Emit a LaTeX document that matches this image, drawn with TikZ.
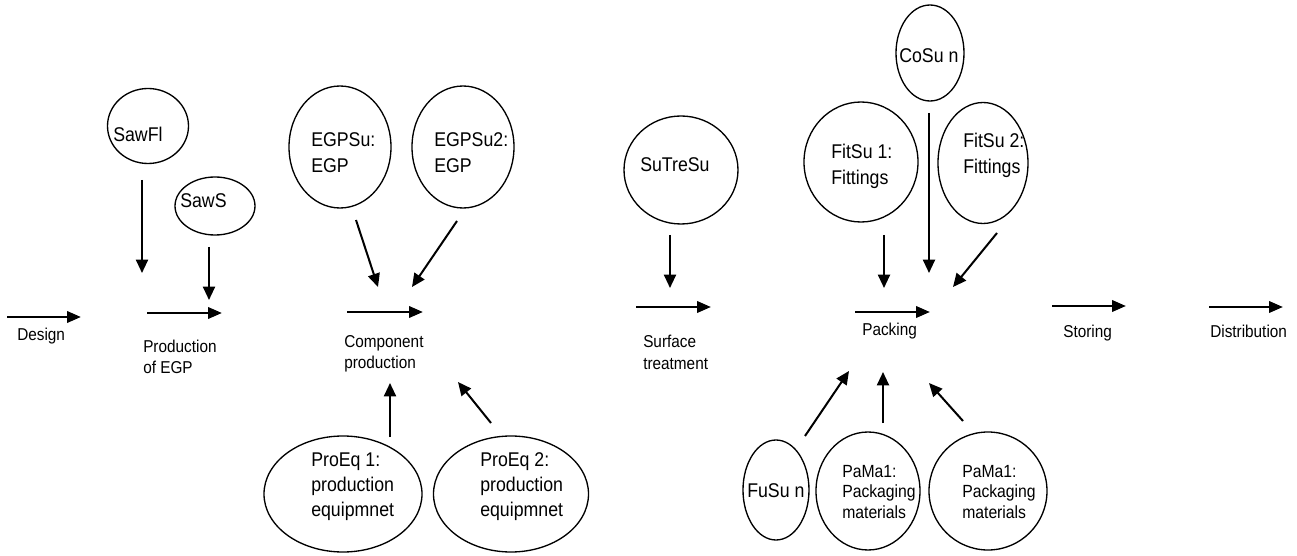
\documentclass[tikz,border=0pt]{standalone}
\usepackage{graphicx}
\usepackage{fontspec}
\setmainfont{Liberation Sans}
\usetikzlibrary{shapes.geometric,arrows.meta}
\newcommand{\stx}[1]{\scalebox{1}[1.12]{\begin{tabular}[t]{@{}l@{}}#1\end{tabular}}}
\tikzset{
  ell/.style n args={2}{shape=ellipse, draw, line width=1pt, inner sep=0pt,
    minimum width=#1*0.75pt, minimum height=#2*0.75pt},
  etxt/.style={anchor=base west, inner sep=0pt,
    font=\fontsize{13.3}{17}\selectfont},
  ptxt/.style={anchor=base west, inner sep=0pt,
    font=\fontsize{11.8}{14}\selectfont},
  ltxt/.style={anchor=base west, inner sep=0pt,
    font=\fontsize{11.5}{14.7}\selectfont},
  flow/.style={line width=2pt, -{Triangle[length=10.5pt,width=8.5pt]}},
  feed/.style={line width=1.5pt, -{Triangle[length=10pt,width=9pt]}}
}
\begin{document}
\begin{tikzpicture}[x=0.75pt,y=-0.75pt]
\useasboundingbox (0,0) rectangle (1297,556);

% ellipses
\node[ell={81}{75}]   (sawfl)  at (148,126) {};
\node[ell={80}{58}]   (saws)   at (215,206) {};
\node[ell={102}{122}] (egpsu)  at (340,147) {};
\node[ell={102}{122}] (egpsu2) at (463,147) {};
\node[ell={158}{116}] (proeq1) at (343,494) {};
\node[ell={155}{116}] (proeq2) at (511,494) {};
\node[ell={114}{108}] (sutresu) at (681,170) {};
\node[ell={68}{96}]   (cosu)   at (930,53) {};
\node[ell={114}{120}] (fitsu1) at (861,162) {};
\node[ell={90}{121}]  (fitsu2) at (983,163) {};
\node[ell={66}{100}]  (fusu)   at (776,490) {};
\node[ell={104}{118}] (pama1)  at (868,491) {};
\node[ell={118}{118}] (pama2)  at (988,491) {};

% ellipse texts
\node[etxt] (tsawfl)  at (113,142) {\stx{SawFl}};
\node[etxt] (tsaws)   at (180,208) {\stx{SawS}};
\node[etxt] (tegpsu)  at (311,147) {\stx{EGPSu:\\EGP}};
\node[etxt] (tegpsu2) at (434,147) {\stx{EGPSu2:\\EGP}};
\node[etxt] (tproeq1) at (311,466) {\stx{ProEq 1:\\production\\equipmnet}};
\node[etxt] (tproeq2) at (480,466) {\stx{ProEq 2:\\production\\equipmnet}};
\node[etxt] (tsutresu) at (640,172) {\stx{SuTreSu}};
\node[etxt] (tcosu)   at (899,63) {\stx{CoSu n}};
\node[etxt] (tfitsu1) at (831,159) {\stx{FitSu 1:\\Fittings}};
\node[etxt] (tfitsu2) at (963,148) {\stx{FitSu 2:\\Fittings}};
\node[etxt] (tfusu)   at (747,497) {\stx{FuSu n}};
\node[ptxt] (tpama1)  at (842,477) {\stx{PaMa1:\\Packaging\\materials}};
\node[ptxt] (tpama2)  at (962,477) {\stx{PaMa1:\\Packaging\\materials}};

% process labels
\node[ltxt] (ldesign) at (17,340) {\stx{Design}};
\node[ltxt] (lprod)   at (143,352) {\stx{Production\\of EGP}};
\node[ltxt] (lcomp)   at (344,347) {\stx{Component\\production}};
\node[ltxt] (lsurf)   at (643,348) {\stx{Surface\\treatment}};
\node[ltxt] (lpack)   at (862,335) {\stx{Packing}};
\node[ltxt] (lstor)   at (1063,337) {\stx{Storing}};
\node[ltxt] (ldist)   at (1210,337) {\stx{Distribution}};

% coordinates for the free-standing arrows
\coordinate (d1) at (7,317);    \coordinate (d2) at (81,317);
\coordinate (p1) at (147,313);  \coordinate (p2) at (222,313);
\coordinate (c1) at (347,312);  \coordinate (c2) at (423,312);
\coordinate (s1) at (636,307);  \coordinate (s2) at (711,307);
\coordinate (k1) at (855,312);  \coordinate (k2) at (930,312);
\coordinate (r1) at (1052,306); \coordinate (r2) at (1126,306);
\coordinate (t1) at (1209,307); \coordinate (t2) at (1283,307);

\coordinate (a1s) at (142,180); \coordinate (a1e) at (142,273);
\coordinate (a2s) at (209,247); \coordinate (a2e) at (209,300);
\coordinate (a3s) at (356,220); \coordinate (a3e) at (378,287);
\coordinate (a4s) at (457,221); \coordinate (a4e) at (412,287);
\coordinate (a5s) at (390,437); \coordinate (a5e) at (390,383);
\coordinate (a6s) at (491,423); \coordinate (a6e) at (458,382);
\coordinate (a7s) at (670,235); \coordinate (a7e) at (670,288);
\coordinate (a8s) at (884,235); \coordinate (a8e) at (884,288);
\coordinate (a9s) at (929,113); \coordinate (a9e) at (929,273);
\coordinate (a10s) at (997,233); \coordinate (a10e) at (953,287);
\coordinate (a11s) at (805,436); \coordinate (a11e) at (849,371);
\coordinate (a12s) at (883,423); \coordinate (a12e) at (883,372);
\coordinate (a13s) at (963,421); \coordinate (a13e) at (929,383);

% process arrows
\draw[flow] (d1) -- (d2);
\draw[flow] (p1) -- (p2);
\draw[flow] (c1) -- (c2);
\draw[flow] (s1) -- (s2);
\draw[flow] (k1) -- (k2);
\draw[flow] (r1) -- (r2);
\draw[flow] (t1) -- (t2);

% supply arrows
\draw[feed] (a1s) -- (a1e);
\draw[feed] (a2s) -- (a2e);
\draw[feed] (a3s) -- (a3e);
\draw[feed] (a4s) -- (a4e);
\draw[feed] (a5s) -- (a5e);
\draw[feed] (a6s) -- (a6e);
\draw[feed] (a7s) -- (a7e);
\draw[feed] (a8s) -- (a8e);
\draw[feed] (a9s) -- (a9e);
\draw[feed] (a10s) -- (a10e);
\draw[feed] (a11s) -- (a11e);
\draw[feed] (a12s) -- (a12e);
\draw[feed] (a13s) -- (a13e);
\end{tikzpicture}
\end{document}
